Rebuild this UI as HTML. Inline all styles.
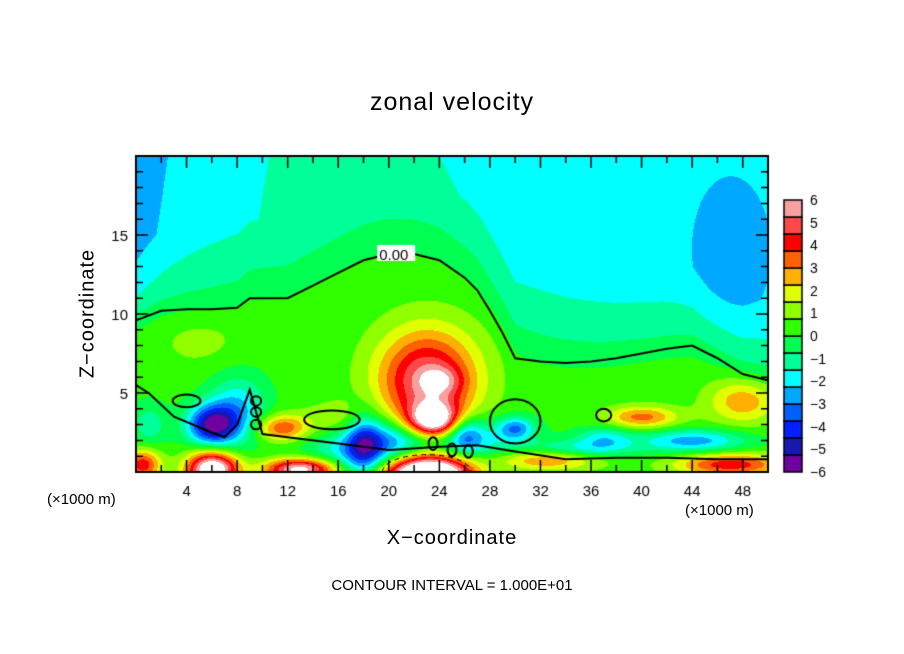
<!DOCTYPE html>
<html><head><meta charset="utf-8">
<style>
body{margin:0;background:#fff;width:904px;height:654px;overflow:hidden;position:relative;font-family:"Liberation Sans",sans-serif}
.t{position:absolute;color:#000;white-space:nowrap}
canvas{position:absolute;left:0;top:0}
</style></head><body>
<canvas id="c" width="904" height="654"></canvas>
<div class="t" style="left:0;width:904px;text-align:center;top:88px;font-size:25px;letter-spacing:1px">zonal velocity</div>
<div class="t" style="left:-12px;top:302px;width:200px;text-align:center;font-size:20px;transform:rotate(-90deg);letter-spacing:1px">Z−coordinate</div>
<div class="t" style="left:0;width:904px;text-align:center;top:527px;font-size:20px;letter-spacing:1px">X−coordinate</div>
<div class="t" style="left:47px;top:491px;font-size:15px">(×1000 m)</div>
<div class="t" style="left:685px;top:502px;font-size:15px">(×1000 m)</div>
<div class="t" style="left:0;width:904px;text-align:center;top:577px;font-size:15px">CONTOUR INTERVAL = 1.000E+01</div>
<script>
const xTicks=[4,8,12,16,20,24,28,32,36,40,44,48];
const zTicks=[5,10,15];
const cbTicks=[6,5,4,3,2,1,0,-1,-2,-3,-4,-5,-6];
const palette=['#7000a0','#1818b0','#0020ff','#0060ff','#00a8ff','#00ffff','#00ff98','#00ff50','#30ff00','#90ff00','#e0ff00','#ffb000','#ff6000','#ff0000','#ff4848','#f8a0a0'];
// zero-contour height (km)
const zeroX=[0,2,4,6,8,9,12,14,16,18,20,22,24,26,27,28,29,30,32,34,36,38,40,42,44,46,48,50];
const zeroZ=[9.6,10.2,10.3,10.3,10.4,11,11,11.8,12.6,13.4,13.8,13.8,13.4,12.3,11.5,10.2,8.8,7.2,7,6.9,7,7.2,7.5,7.8,8,7.2,6.2,5.8];
// blobs: x km, z km, amplitude, sigma x, sigma z
const blobX=[23,24,23.5,6,8,6,13,11.5,18,22,23,32,40,30,44,47,48,5,0.5,1,35,26,16,37,47];
const blobZ=[5.8,5.8,3.2,3,4,0.2,0.2,2.8,1.8,1.5,0,0.8,3.5,2.8,2,0.5,4.5,8.3,0.5,3,1.5,2.5,3.3,2.2,14];
const blobA=[5.2,1.8,6.8,-5.5,-2.5,7.5,6.5,3.5,-3,-6,12,3,3,-3,-3,4,2.5,0.7,4,-1.5,-2,-2.5,1.5,-2,-0.9];
const blobSX=[2.8,1.1,1.5,1.4,1.6,1.4,2,1.5,1,4.5,2.6,3,2,1,3,3,2,2.5,1,1,3,1,2,1.5,2];
const blobSZ=[2.3,0.6,0.8,0.9,1.5,0.8,0.5,0.6,1.5,1.2,1.1,0.5,0.5,0.5,0.5,0.5,1,1.2,0.7,1,0.4,0.8,0.8,0.5,3];
const X0=136,X1=768,Y0=472,Y1=156;
const sx=x=>X0+(X1-X0)*x/50, sz=z=>Y0-(Y0-Y1)*z/20;
const sig=t=>1/(1+Math.exp(-t));
function h(x){for(let i=1;i<zeroX.length;i++)if(x<=zeroX[i]){const f=(x-zeroX[i-1])/(zeroX[i]-zeroX[i-1]);return zeroZ[i-1]+f*(zeroZ[i]-zeroZ[i-1]);}return zeroZ[zeroZ.length-1];}
function field(x,z){
 const d=Math.max(0,z-h(x));
 const above=-0.2-Math.min(0.22*d,1.1)-1.3*Math.exp(-x/5)*(0.4+z/25)-0.7*sig((x-34+(z-10)*0.6)/4);
 const below=0.3;
 let v=below+(above-below)*sig((z-h(x))/0.6);
 for(let i=0;i<blobX.length;i++)v+=blobA[i]*Math.exp(-((x-blobX[i])**2/(2*blobSX[i]**2)+(z-blobZ[i])**2/(2*blobSZ[i]**2)));
 return v;}
const c=document.getElementById('c'),g=c.getContext('2d');
const W=X1-X0,H=Y0-Y1,img=g.createImageData(W,H);
const rgb=palette.map(p=>[parseInt(p.substr(1,2),16),parseInt(p.substr(3,2),16),parseInt(p.substr(5,2),16)]);
for(let j=0;j<H;j++)for(let i=0;i<W;i++){
 const v=field(i/W*50,(H-j)/H*20);let col;
 if(v>6)col=[255,255,255];else{let k=Math.floor((v+6)/0.75);k=Math.max(0,Math.min(15,k));col=rgb[k];}
 const o=(j*W+i)*4;img.data[o]=col[0];img.data[o+1]=col[1];img.data[o+2]=col[2];img.data[o+3]=255;}
g.putImageData(img,X0,Y1);
g.save();g.beginPath();g.rect(X0,Y1,W,H);g.clip();
g.strokeStyle='#000';g.lineWidth=2;g.beginPath();
zeroX.forEach((x,i)=>{const px=sx(x),py=sz(zeroZ[i]);i?g.lineTo(px,py):g.moveTo(px,py);});g.stroke();
const loopX=[15.5,9.5,9.5,9.5,4,30,37,23.5,25,26.3];
const loopZ=[3.3,4.5,3.8,3.0,4.5,3.2,3.6,1.8,1.4,1.3];
const loopRX=[2.2,0.4,0.4,0.4,1.1,2,0.6,0.35,0.35,0.35];
const loopRZ=[0.6,0.3,0.3,0.3,0.4,1.4,0.4,0.4,0.4,0.4];
loopX.forEach((x,i)=>{g.beginPath();g.ellipse(sx(x),sz(loopZ[i]),loopRX[i]*12.64,loopRZ[i]*15.8,0,0,Math.PI*2);g.stroke();});
const lowX=[0,1,3,6,7,8,9,10,12,16,20,24,27,30,34,38,42,46,50],lowZ=[5.5,5,3.5,2.5,2.2,3,5.2,2.4,2.2,1.8,1.4,1.6,1.7,1.3,0.8,0.9,0.9,0.8,0.8];
g.beginPath();lowX.forEach((x,i)=>i?g.lineTo(sx(x),sz(lowZ[i])):g.moveTo(sx(x),sz(lowZ[i])));g.stroke();
g.setLineDash([5,4]);g.lineWidth=1;g.beginPath();g.ellipse(sx(23),sz(0),3.5*12.64,1.1*15.8,0,Math.PI,2*Math.PI);g.stroke();g.setLineDash([]);
g.restore();
g.fillStyle='#fff';g.fillRect(sx(19)+1,sz(13.8)-9,38,16);
g.fillStyle='#000';g.font='15px "Liberation Sans",sans-serif';g.fillText('0.00',sx(19)+3,sz(13.8)+6);
g.lineWidth=2;g.strokeRect(X0,Y1,W,H);
g.lineWidth=1.5;
for(let z=1;z<20;z++){const L=z%5?7:12;g.beginPath();g.moveTo(X0,sz(z));g.lineTo(X0+L,sz(z));g.moveTo(X1,sz(z));g.lineTo(X1-L,sz(z));g.stroke();}
for(let x=2;x<50;x+=2){const L=x%4?7:12;g.beginPath();g.moveTo(sx(x),Y0);g.lineTo(sx(x),Y0-L);g.moveTo(sx(x),Y1);g.lineTo(sx(x),Y1+L);g.stroke();}
g.font='15px "Liberation Sans",sans-serif';g.textAlign='center';
xTicks.forEach(x=>g.fillText(String(x),sx(x),Y0+24));
g.textAlign='right';zTicks.forEach(z=>g.fillText(String(z),X0-8,sz(z)+6));
const CX=784,CW=18,CT=200,CB=472,bh=(CB-CT)/16;
palette.forEach((p,k)=>{g.fillStyle=p;g.fillRect(CX,CB-(k+1)*bh,CW,bh);g.strokeStyle='#000';g.lineWidth=1.5;g.strokeRect(CX,CB-(k+1)*bh,CW,bh);});
g.fillStyle='#000';g.textAlign='left';g.font='14px "Liberation Sans",sans-serif';
cbTicks.forEach(v=>g.fillText((v<0?'−':'')+Math.abs(v),CX+26,CB-(v+6)/12*(CB-CT)+5));
</script>
</body></html>
